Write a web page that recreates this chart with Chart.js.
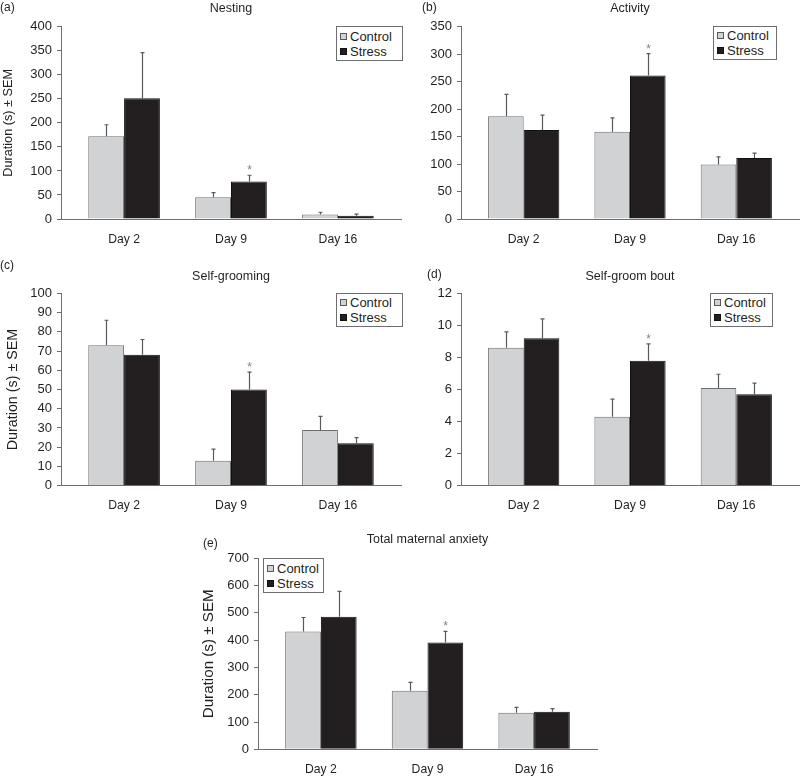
<!DOCTYPE html>
<html>
<head>
<meta charset="utf-8">
<script src="https://cdn.jsdelivr.net/npm/chart.js@4.4.1/dist/chart.umd.min.js"></script>
<style>
html,body{margin:0;padding:0;background:#fff;}
#wrap{position:relative;width:800px;height:776px;overflow:hidden;background:#fff;font-family:"Liberation Sans",Arial,Helvetica,sans-serif;color:#231f20;}
#wrap canvas{position:absolute;}
.plabel{position:absolute;font-size:12px;line-height:14px;white-space:nowrap;}
.legend{position:absolute;border:1px solid #6d6e70;background:#fff;box-sizing:border-box;font-size:13px;padding:0 0 0 3px;}
.legend .row{display:flex;align-items:center;height:15px;line-height:15px;white-space:nowrap;}
.legend .sw{display:inline-block;width:7px;height:7px;margin-right:3px;box-sizing:border-box;border:1px solid #58595b;}
</style>
</head>
<body>
<div id="wrap"></div>
<script>
// ---------- data ----------
const categories = ['Day 2', 'Day 9', 'Day 16'];
const seriesNames = ['Control', 'Stress'];
const significantStress = [false, true, false];

const nestingControl = [172, 45, 9.5];
const nestingControlSem = [24, 10, 4.5];
const nestingStress = [251, 78, 7];
const nestingStressSem = [95, 13, 3];
const nestingTicks = [0, 50, 100, 150, 200, 250, 300, 350, 400];

const activityControl = [187, 159, 99];
const activityControlSem = [40, 25, 14];
const activityStress = [162, 261, 111];
const activityStressSem = [27, 40, 9];
const activityTicks = [0, 50, 100, 150, 200, 250, 300, 350];

const groomControl = [73, 13, 29];
const groomControlSem = [13, 6, 7];
const groomStress = [68, 50, 22];
const groomStressSem = [8, 9, 3];
const groomTicks = [0, 10, 20, 30, 40, 50, 60, 70, 80, 90, 100];

const boutControl = [8.6, 4.3, 6.1];
const boutControlSem = [1.0, 1.1, 0.85];
const boutStress = [9.2, 7.8, 5.7];
const boutStressSem = [1.2, 1.05, 0.7];
const boutTicks = [0, 2, 4, 6, 8, 10, 12];

const totalControl = [432, 215, 134];
const totalControlSem = [51, 30, 20];
const totalStress = [486, 391, 138];
const totalStressSem = [93, 41, 11];
const totalTicks = [0, 100, 200, 300, 400, 500, 600, 700];

const yAxisTitle = 'Duration (s) \u00b1 SEM';

// ---------- layout / style ----------
const FONT = '"Liberation Sans", Arial, Helvetica, sans-serif';
const INK = '#231f20';
const AXIS = '#6d6e70';
const CONTROL_FILL = '#d1d2d4';
const CONTROL_BORDER = '#6d6e70';
const STRESS_FILL = '#231f20';
const STRESS_BORDER = '#111111';

const panels = [
  {label: '(a)', title: 'Nesting', c: nestingControl, cs: nestingControlSem, s: nestingStress, ss: nestingStressSem, ticks: nestingTicks,
   yTitle: yAxisTitle, yTitleSize: 12.7, yTitlePad: 0.4,
   box: [0, 0, 404, 250], area: [61, 401, 26.7, 219], titleY: 8.5, labelPos: [0, 0], legend: [336, 26, 67, 35]},
  {label: '(b)', title: 'Activity', c: activityControl, cs: activityControlSem, s: activityStress, ss: activityStressSem, ticks: activityTicks,
   yTitle: null,
   box: [400, 0, 400, 250], area: [461, 799, 26.7, 219], titleY: 8.5, labelPos: [422, 0], legend: [713, 26, 64, 34]},
  {label: '(c)', title: 'Self-grooming', c: groomControl, cs: groomControlSem, s: groomStress, ss: groomStressSem, ticks: groomTicks,
   yTitle: yAxisTitle, yTitleSize: 14.3, yTitlePad: 4.7,
   box: [0, 250, 404, 265], area: [61, 401, 293.3, 485.7], titleY: 277, labelPos: [0, 258], legend: [336, 293, 67, 34]},
  {label: '(d)', title: 'Self-groom bout', c: boutControl, cs: boutControlSem, s: boutStress, ss: boutStressSem, ticks: boutTicks,
   yTitle: null,
   box: [400, 250, 400, 265], area: [461, 799, 293.3, 485.7], titleY: 277, labelPos: [427, 267], legend: [710, 293, 63, 34]},
  {label: '(e)', title: 'Total maternal anxiety', c: totalControl, cs: totalControlSem, s: totalStress, ss: totalStressSem, ticks: totalTicks,
   yTitle: yAxisTitle, yTitleSize: 15.2, yTitlePad: 9.9,
   box: [190, 515, 420, 261], area: [258, 597, 558.3, 749.3], titleY: 540, labelPos: [203, 536], legend: [263, 558, 61, 35]}
];

// error bars + significance asterisk, drawn from data through the scales
const errorBarPlugin = {
  id: 'errorBars',
  afterDatasetsDraw(chart) {
    const ctx = chart.ctx;
    const yScale = chart.scales.y;
    ctx.save();
    chart.data.datasets.forEach((ds, d) => {
      const meta = chart.getDatasetMeta(d);
      meta.data.forEach((el, i) => {
        const v = ds.data[i].y;
        const top = yScale.getPixelForValue(v + ds.sem[i]);
        const x = Math.round(el.x) + 0.5;
        ctx.strokeStyle = '#58595b';
        ctx.lineWidth = 1.2;
        ctx.beginPath();
        ctx.moveTo(x, el.y);
        ctx.lineTo(x, top);
        ctx.moveTo(x - 2, top);
        ctx.lineTo(x + 2, top);
        ctx.stroke();
        if (ds.stars && ds.stars[i]) {
          ctx.fillStyle = '#808285';
          ctx.font = '12px ' + FONT;
          ctx.textAlign = 'center';
          ctx.textBaseline = 'alphabetic';
          ctx.fillText('*', x, top - 1);
        }
      });
    });
    ctx.restore();
  }
};

const wrap = document.getElementById('wrap');

panels.forEach(p => {
  const [bl, bt, bw, bh] = p.box;
  const [al, ar, at, ab] = p.area;
  const canvas = document.createElement('canvas');
  canvas.width = bw; canvas.height = bh;
  canvas.style.left = bl + 'px'; canvas.style.top = bt + 'px';
  canvas.style.width = bw + 'px'; canvas.style.height = bh + 'px';
  wrap.appendChild(canvas);

  const titleLH = 12.5 * 1.2;
  const padTop = p.titleY - bt - titleLH / 2;
  const titleBottom = at - bt - padTop - titleLH;
  const yW = al - bl;
  const padR = bl + bw - ar;
  const xH = bt + bh - ab;

  new Chart(canvas, {
    type: 'bar',
    data: {
      datasets: [
        {label: seriesNames[0], data: p.c.map((v, i) => ({x: i, y: v})), sem: p.cs,
         backgroundColor: CONTROL_FILL, borderColor: CONTROL_BORDER, borderWidth: 1},
        {label: seriesNames[1], data: p.s.map((v, i) => ({x: i, y: v})), sem: p.ss, stars: significantStress,
         backgroundColor: STRESS_FILL, borderColor: STRESS_BORDER, borderWidth: 1}
      ]
    },
    options: {
      responsive: false,
      animation: false,
      devicePixelRatio: 1,
      categoryPercentage: 0.67,
      barPercentage: 1.0,
      layout: {padding: {left: 0, right: padR, top: padTop, bottom: 0}},
      plugins: {
        legend: {display: false},
        tooltip: {enabled: false},
        title: {display: true, text: p.title, fullSize: false, color: INK,
                font: {family: FONT, size: 12.5, weight: 'normal', lineHeight: 1.2},
                padding: {top: 0, bottom: titleBottom}}
      },
      scales: {
        x: {
          type: 'linear', min: -0.59, max: 2.59, offset: false,
          grid: {display: false, drawTicks: false},
          border: {display: true, color: AXIS, width: 1},
          ticks: {padding: 13, color: INK, font: {family: FONT, size: 12.2},
                  callback: v => categories[v]},
          afterBuildTicks: s => { s.ticks = categories.map((_, i) => ({value: i})); },
          afterFit: s => { s.height = xH; }
        },
        y: {
          type: 'linear', min: p.ticks[0], max: p.ticks[p.ticks.length - 1],
          grid: {display: true, drawOnChartArea: false, drawTicks: true, tickLength: 4, color: AXIS},
          border: {display: true, color: AXIS, width: 1},
          ticks: {padding: 5, color: INK, font: {family: FONT, size: 13}},
          afterBuildTicks: s => { s.ticks = p.ticks.map(v => ({value: v})); },
          afterFit: s => { s.width = yW; },
          title: {display: !!p.yTitle, text: p.yTitle || '', color: INK,
                  font: {family: FONT, size: p.yTitleSize || 12, lineHeight: 1.2},
                  padding: {top: p.yTitlePad || 0, bottom: 0}}
        }
      }
    },
    plugins: [errorBarPlugin]
  });
});

// panel letters and legends (HTML text)
panels.forEach(p => {
  const lab = document.createElement('div');
  lab.className = 'plabel';
  lab.style.left = p.labelPos[0] + 'px';
  lab.style.top = p.labelPos[1] + 'px';
  lab.textContent = p.label;
  wrap.appendChild(lab);

  const [ll, lt, lw, lh] = p.legend;
  const lg = document.createElement('div');
  lg.className = 'legend';
  lg.style.left = ll + 'px'; lg.style.top = lt + 'px';
  lg.style.width = lw + 'px'; lg.style.height = lh + 'px';
  lg.style.paddingTop = ((lh - 2 - 30) / 2) + 'px';
  seriesNames.forEach((name, k) => {
    const row = document.createElement('div');
    row.className = 'row';
    const sw = document.createElement('span');
    sw.className = 'sw';
    sw.style.background = k === 0 ? CONTROL_FILL : STRESS_FILL;
    sw.style.borderColor = k === 0 ? '#58595b' : STRESS_BORDER;
    row.appendChild(sw);
    row.appendChild(document.createTextNode(name));
    lg.appendChild(row);
  });
  wrap.appendChild(lg);
});
</script>
</body>
</html>
